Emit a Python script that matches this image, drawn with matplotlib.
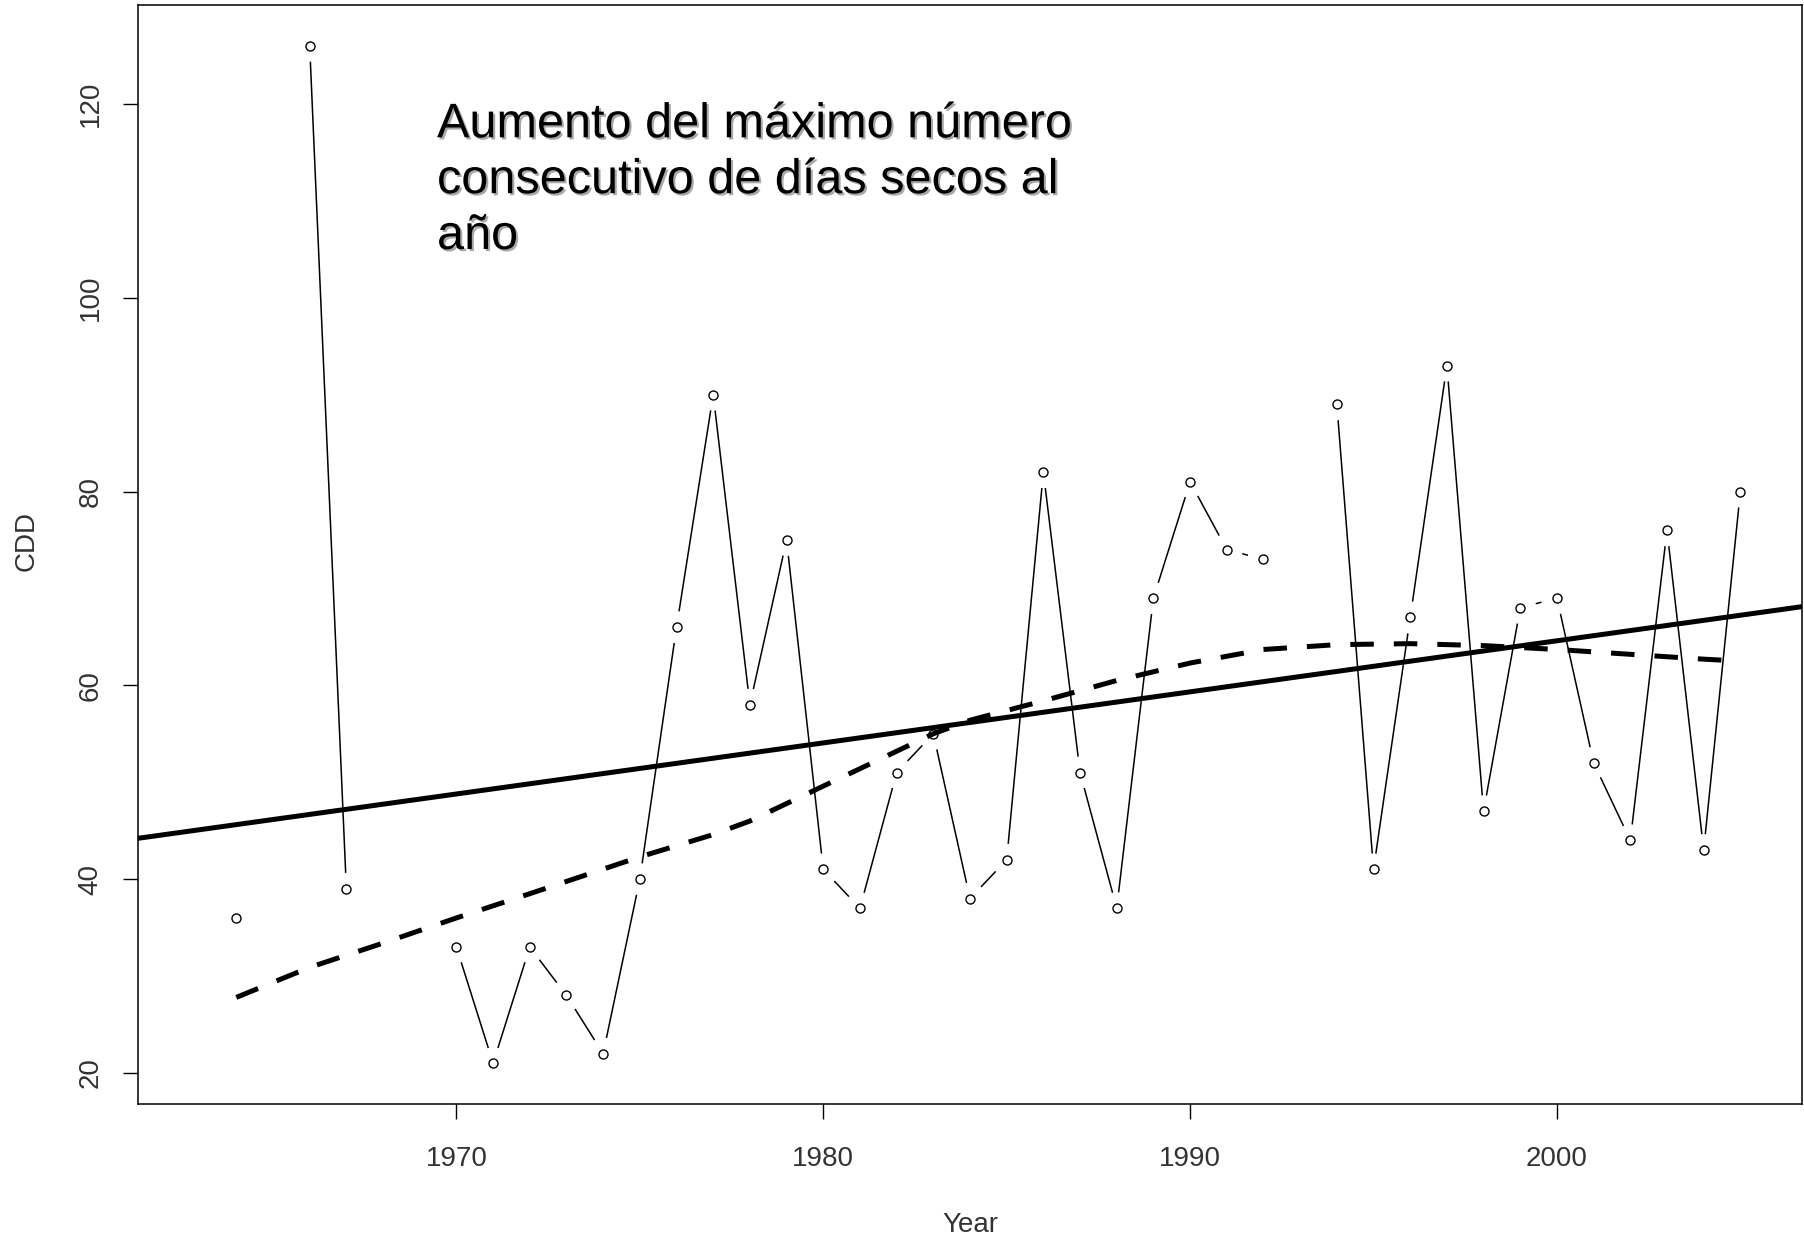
import numpy as np
import matplotlib
matplotlib.use("Agg")
import matplotlib.pyplot as plt
import matplotlib.patheffects as pe
from matplotlib.font_manager import fontManager

# ---------------- data ----------------
years = list(range(1963, 2006))
cdd = [np.nan, 36, np.nan, 126, 39, np.nan, np.nan,
       33, 21, 33, 28, 22, 40, 66, 90, 58, 75,
       41, 37, 51, 55, 38, 42, 82, 51, 37, 69,
       81, 74, 73, np.nan, 89, 41, 67, 93, 47, 68,
       69, 52, 44, 76, 43, 80]

lowess_years = [1964, 1966, 1968, 1970, 1972, 1975, 1977, 1978, 1980, 1982,
                1983, 1984, 1986, 1988, 1990, 1992, 1994, 1996, 1998, 2000,
                2002, 2004, 2005]
lowess_vals = [27.8, 30.9, 33.4, 36.0, 38.5, 42.3, 44.6, 46.0, 49.6, 53.2,
               55.0, 56.4, 58.4, 60.5, 62.3, 63.7, 64.2, 64.3, 64.1, 63.7,
               63.2, 62.7, 62.5]

x_ticks = [1970, 1980, 1990, 2000]
y_ticks = [20, 40, 60, 80, 100, 120]
title_text = "Aumento del máximo número\nconsecutivo de días secos al\naño"

# ---------------- fonts ----------------
names = {f.name for f in fontManager.ttflist}
base_font = "Liberation Sans" if "Liberation Sans" in names else "DejaVu Sans"
narrow_font = "Liberation Sans Narrow" if "Liberation Sans Narrow" in names else base_font
plt.rcParams["font.family"] = [base_font, "DejaVu Sans"]

W, H = 1804, 1237
fig = plt.figure(figsize=(W / 100, H / 100), dpi=100)
fig.patch.set_facecolor("white")
ax_l, ax_r, ax_t, ax_b = 138, 1802, 5, 1104
ax = fig.add_axes([ax_l / W, 1 - ax_b / H, (ax_r - ax_l) / W, (ax_b - ax_t) / H])

ax.set_xlim(1961.32, 2006.68)
ax.set_ylim(16.8, 130.2)

x = np.array(years, dtype=float)
y = np.array(cdd, dtype=float)

# ---- data line with gaps around points (R type="b") ----
gap_px = 16.0
pts = ax.transData.transform(np.column_stack([x, np.nan_to_num(y)]))
inv = ax.transData.inverted()
for i in range(len(x) - 1):
    if np.isnan(y[i]) or np.isnan(y[i + 1]):
        continue
    p0, p1 = pts[i], pts[i + 1]
    d = p1 - p0
    L = np.hypot(*d)
    if L <= 2 * gap_px:
        continue
    u = d / L
    a = inv.transform(p0 + u * gap_px)
    b = inv.transform(p1 - u * gap_px)
    ax.plot([a[0], b[0]], [a[1], b[1]], color="black", lw=1.1, zorder=2,
            solid_capstyle="butt")

ax.plot(x, y, linestyle="none", marker="o", markersize=6.5,
        markerfacecolor="none", markeredgecolor="black", markeredgewidth=1.0,
        zorder=3)

# ---- linear regression (solid) ----
mask = ~np.isnan(y)
slope, intercept = np.polyfit(x[mask], y[mask], 1)
ax.axline((1985, intercept + slope * 1985), slope=slope, color="black",
          lw=3.6, zorder=4)

# ---- lowess (dashed) ----
ax.plot(lowess_years, lowess_vals, color="black", lw=3.6,
        linestyle=(0, (4.7, 4.0)), dash_capstyle="butt", zorder=4)

# ---- axes styling ----
for s in ax.spines.values():
    s.set_linewidth(1.1)
    s.set_color("black")

ax.set_xticks(x_ticks)
ax.set_xticklabels([str(v) for v in x_ticks])
ax.set_yticks(y_ticks)
ax.set_yticklabels([str(v) for v in y_ticks], rotation=90, va="center")
ax.tick_params(axis="both", direction="out", length=10.8, width=1.0,
               colors="black", labelsize=20, labelcolor="#333333")
ax.tick_params(axis="x", pad=19.5)
ax.tick_params(axis="y", pad=14)

ax.set_xlabel("Year", fontsize=20, color="#333333")
ax.xaxis.set_label_coords(0.5, (12.5 - (H - ax_b)) / (ax_b - ax_t))
ax.xaxis.label.set_va("center")
ax.set_ylabel("CDD", fontsize=20, color="#333333")
ax.yaxis.set_label_coords((27 - ax_l) / (ax_r - ax_l), ((H - 541) - (H - ax_b)) / (ax_b - ax_t))
ax.yaxis.label.set_va("center")
ax.yaxis.label.set_ha("center")

# ---- annotation text with shadow ----
if narrow_font != base_font:
    t_size, t_ls = 42, 1.10
else:
    t_size, t_ls = 35, 1.31
fig.text(437 / W, 1 - 249 / H, title_text, fontsize=t_size, family=[narrow_font, "DejaVu Sans"],
         color="black", ha="left", va="baseline", linespacing=t_ls,
         path_effects=[pe.withSimplePatchShadow(offset=(1.5, -1.5),
                                                shadow_rgbFace="#a8a8a8", alpha=1.0)])

fig.savefig("out.png", dpi=100, facecolor="white")
